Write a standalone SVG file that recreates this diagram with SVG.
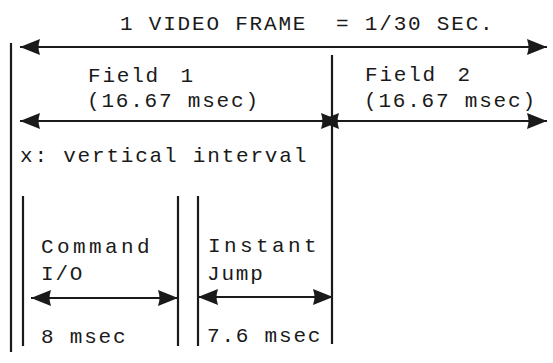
<svg xmlns="http://www.w3.org/2000/svg" width="553" height="363" viewBox="0 0 553 363">
  <style>
    .t { font-family: "Liberation Mono", "DejaVu Sans Mono", monospace; font-size: 21px; letter-spacing: 1.8px; fill: #1a1a1a; }
    .w { letter-spacing: 3.4px; }
    .ln { stroke: #1a1a1a; stroke-width: 2.2; fill: none; }
  </style>
  <defs>
    <marker id="ah" viewBox="0 0 20 16" markerWidth="20" markerHeight="16" refX="20" refY="8" orient="auto-start-reverse" markerUnits="userSpaceOnUse">
      <path d="M0,0 Q6,8 20,8 Q6,8 0,16 Q3,8 0,0 Z M0,0 L20,8 L0,16 L2,8 Z" fill="#1a1a1a"/>
    </marker>
  </defs>
  <rect width="553" height="363" fill="#ffffff"/>

  <g id="dividers">
    <line class="ln" x1="11" y1="43" x2="11" y2="352"/>
    <line class="ln" x1="23" y1="196" x2="23" y2="346"/>
    <line class="ln" x1="178" y1="196" x2="178" y2="346"/>
    <line class="ln" x1="198" y1="196" x2="198" y2="346"/>
    <line class="ln" x1="332" y1="55" x2="332" y2="344"/>
  </g>

  <g id="connectors">
    <line class="ln" x1="20" y1="47" x2="547" y2="47" marker-start="url(#ah)" marker-end="url(#ah)"/>
    <line class="ln" x1="20" y1="121" x2="341" y2="121" marker-start="url(#ah)" marker-end="url(#ah)"/>
    <line class="ln" x1="319" y1="121" x2="547" y2="121" marker-start="url(#ah)" marker-end="url(#ah)"/>
    <line class="ln" x1="31" y1="298" x2="178" y2="298" marker-start="url(#ah)" marker-end="url(#ah)"/>
    <line class="ln" x1="198" y1="297" x2="333" y2="297" marker-start="url(#ah)" marker-end="url(#ah)"/>
  </g>

  <g id="frame-label">
    <text class="t" x="120" y="30" xml:space="preserve">1 VIDEO FRAME  = 1/30 SEC.</text>
  </g>
  <g id="field1">
    <text class="t" x="88" y="82">Field<tspan dx="6"> 1</tspan></text>
    <text class="t" x="87" y="107">(16.67 msec)</text>
  </g>
  <g id="field2">
    <text class="t" x="365" y="81">Field<tspan dx="6"> 2</tspan></text>
    <text class="t" x="364" y="107">(16.67 msec)</text>
  </g>
  <g id="vertical-interval">
    <text class="t" x="20" y="162">x: vertical interval</text>
  </g>
  <g id="command-io">
    <text class="t w" x="41" y="253">Command</text>
    <text class="t" x="41" y="280">I/O</text>
    <text class="t" x="41" y="343">8 msec</text>
  </g>
  <g id="instant-jump">
    <text class="t w" x="208" y="252">Instant</text>
    <text class="t" x="207" y="280">Jump</text>
    <text class="t" x="207" y="342">7.6 msec</text>
  </g>
</svg>
